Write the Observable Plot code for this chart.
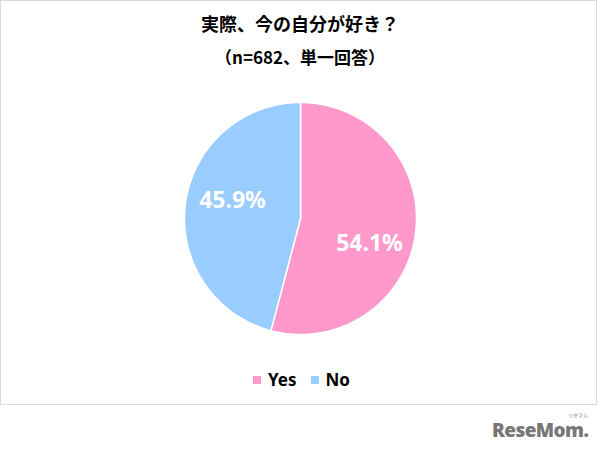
<!DOCTYPE html>
<html><head><meta charset="utf-8">
<script src="https://cdn.jsdelivr.net/npm/d3@7"></script>
<script src="https://cdn.jsdelivr.net/npm/@observablehq/plot@0.6"></script>
<style>
body{margin:0;background:#fff;font-family:"Noto Sans CJK JP","Noto Sans",sans-serif;}
#wrap{position:relative;width:603px;height:457px;overflow:hidden;background:#fff;}
#frame{position:absolute;left:0;top:0;width:597px;height:405px;border:1px solid #d9d9d9;box-sizing:border-box;}
#chart{position:absolute;left:0;top:0;}
.t{position:absolute;left:0;width:600px;text-align:center;font-weight:bold;color:#000;white-space:nowrap;}
#title{top:10px;font-size:18px;}
#sub{top:44px;font-size:17px;}
#legend{position:absolute;left:0;top:368px;width:603px;display:flex;justify-content:center;align-items:center;font-family:"Noto Sans",sans-serif;font-weight:bold;font-size:17px;color:#000;}
#legend .item{display:flex;align-items:center;margin:0 7px;}
#legend .sw{display:inline-block;width:8px;height:8px;margin-right:7px;}
#logo{position:absolute;left:492px;top:419px;font-family:"Open Sans",sans-serif;font-weight:800;font-size:19px;line-height:22px;color:#777;letter-spacing:-0.6px;white-space:nowrap;}
#small{position:absolute;left:568px;top:412px;font-size:5px;line-height:6px;color:#777;font-family:"Noto Sans CJK JP";}
</style></head>
<body>
<div id="wrap">
  <div id="frame"></div>
  <div id="chart"></div>
  <div class="t" id="title"></div>
  <div class="t" id="sub"></div>
  <div id="legend"></div>
  <div id="logo">ReseMom.</div>
  <div id="small">リセマム</div>
</div>
<script>
const titleText = "実際、今の自分が好き？";
const subtitleText = "（n=682、単一回答）";
const categories = ["Yes", "No"];
const values = [54.1, 45.9];
const colors = ["#FF99CC", "#99CCFF"];

document.getElementById("title").textContent = titleText;
document.getElementById("sub").textContent = subtitleText;

const data = categories.map((c, i) => ({category: c, value: values[i]}));
const arcs = d3.pie().sort(null).value(d => d.value)(data);

// polygon points for each slice (angle 0 at top, clockwise)
const pts = [];
for (const a of arcs) {
  const c = a.data.category;
  pts.push({category: c, x: 0, y: 0});
  const n = Math.max(2, Math.ceil((a.endAngle - a.startAngle) / (Math.PI / 180)));
  for (let k = 0; k <= n; k++) {
    const t = a.startAngle + (a.endAngle - a.startAngle) * k / n;
    pts.push({category: c, x: Math.sin(t), y: Math.cos(t)});
  }
  pts.push({category: c, x: 0, y: 0});
}
const labels = arcs.map(a => {
  const m = (a.startAngle + a.endAngle) / 2;
  return {category: a.data.category, text: a.data.value.toFixed(1) + "%", x: 0.6 * Math.sin(m), y: 0.6 * Math.cos(m)};
});

const R = 116, cx = 300, cy = 218, W = 603, H = 457;
const chart = Plot.plot({
  width: W, height: H,
  margin: 0,
  x: {domain: [-cx / R, (W - cx) / R], axis: null},
  y: {domain: [-(H - cy) / R, cy / R], axis: null},
  color: {domain: categories, range: colors},
  marks: [
    Plot.line(pts, {x: "x", y: "y", z: "category", fill: "category", stroke: "white", strokeWidth: 1.5, curve: "linear"}),
    Plot.text(labels.filter(d => d.category === "Yes"), {x: "x", y: "y", text: "text", fill: "white", fontSize: 23, fontWeight: "bold", dx: 0, dy: 16, fontFamily: "Noto Sans"}),
    Plot.text(labels.filter(d => d.category === "No"), {x: "x", y: "y", text: "text", fill: "white", fontSize: 23, fontWeight: "bold", dx: 1, dy: -9, fontFamily: "Noto Sans"})
  ]
});
document.getElementById("chart").appendChild(chart);

const legend = document.getElementById("legend");
categories.forEach((c, i) => {
  const item = document.createElement("span");
  item.className = "item";
  const sw = document.createElement("span");
  sw.className = "sw";
  sw.style.background = colors[i];
  item.appendChild(sw);
  item.appendChild(document.createTextNode(c));
  legend.appendChild(item);
});
</script>
</body></html>
